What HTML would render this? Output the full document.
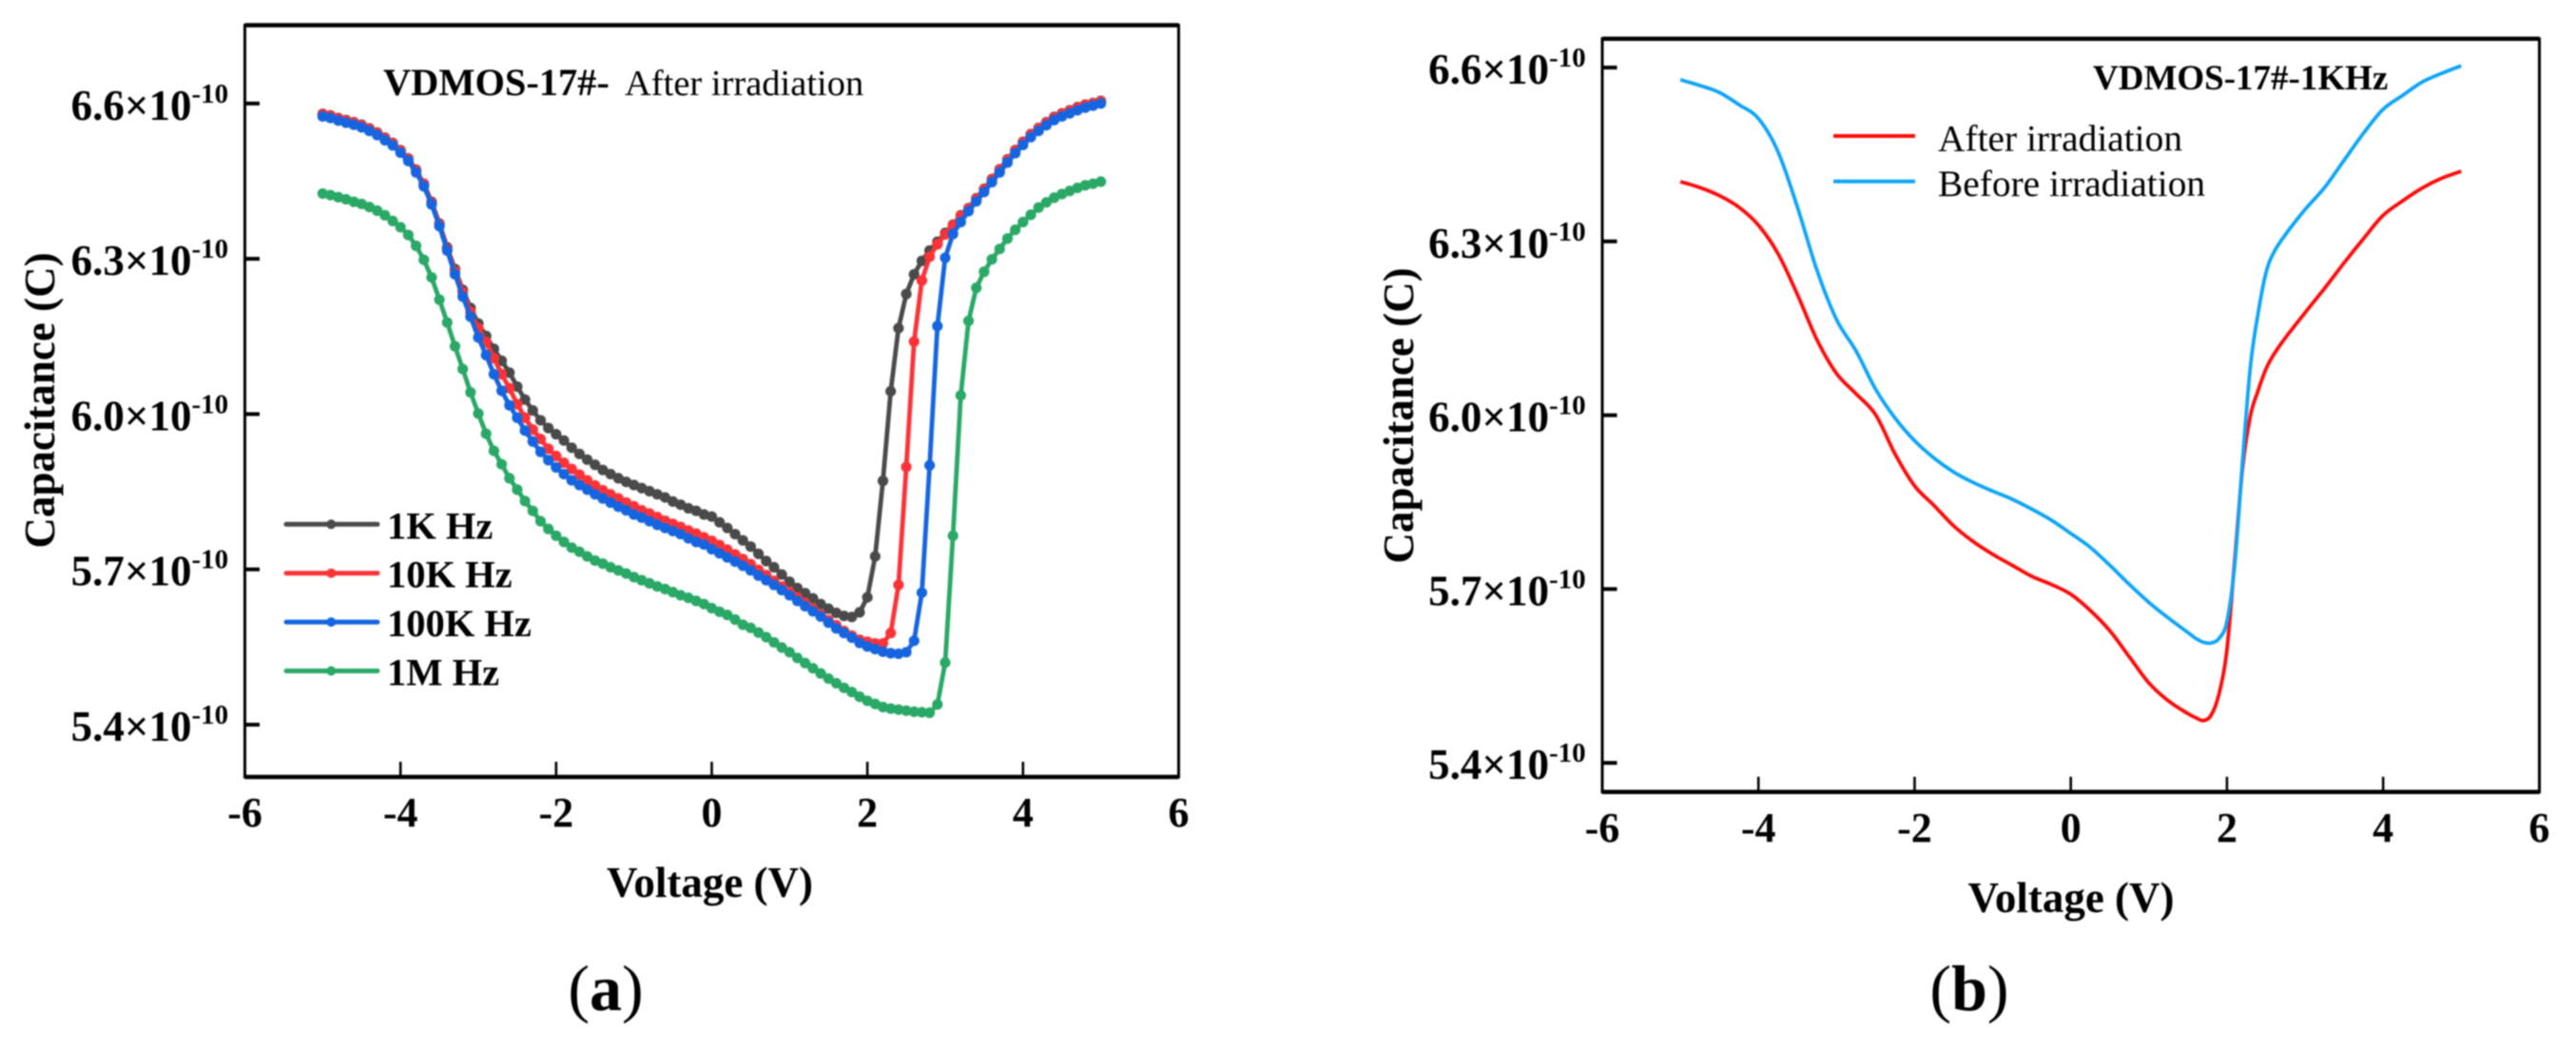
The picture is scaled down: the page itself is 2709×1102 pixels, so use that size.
<!DOCTYPE html>
<html lang="en">
<head>
<meta charset="utf-8">
<title>VDMOS-17# capacitance-voltage curves</title>
<style>
html,body{margin:0;padding:0;background:#fff;}
svg{display:block;filter:blur(0.7px);}
text{font-family:"Liberation Serif",serif;fill:#000;}
.b{font-weight:bold;}
</style>
</head>
<body>
<svg id="figure" xmlns="http://www.w3.org/2000/svg" width="2709" height="1102" viewBox="0 0 2709 1102">
  <rect x="0" y="0" width="2709" height="1102" fill="#fff"/>
  <g id="panelA"></g>
  <g id="panelB"></g>

  <text class="b" x="403" y="100" font-size="40.4">VDMOS-17#-</text>
  <text x="657" y="100" font-size="38.5">After irradiation</text>
  <text class="b" x="746.5" y="943" font-size="45" text-anchor="middle">Voltage (V)</text>
  <text class="b" font-size="45" text-anchor="middle" transform="translate(57 421) rotate(-90)">Capacitance (C)</text>
  <text x="637" y="1062" font-size="68" text-anchor="middle">(<tspan class="b">a</tspan>)</text>

  <text class="b" x="2201" y="94" font-size="37">VDMOS-17#-1KHz</text>
  <text class="b" x="2178" y="959" font-size="45" text-anchor="middle">Voltage (V)</text>
  <text class="b" font-size="45" text-anchor="middle" transform="translate(1486 437) rotate(-90)">Capacitance (C)</text>
  <text x="2071" y="1062" font-size="68" text-anchor="middle">(<tspan class="b">b</tspan>)</text>
</svg>
<script>
var xTickValues = [-6,-4,-2,0,2,4,6];
var xTickLabels = ["-6","-4","-2","0","2","4","6"];
var yTickValues = [5.4,5.7,6.0,6.3,6.6];
var yTickLabels = ["5.4","5.7","6.0","6.3","6.6"];
var yTickExponent = "-10";

var voltagesA = [
-5,-4.9,-4.8,-4.7,-4.6,-4.5,-4.4,-4.3,-4.2,-4.1,
-4,-3.9,-3.8,-3.7,-3.6,-3.5,-3.4,-3.3,-3.2,-3.1,
-3,-2.9,-2.8,-2.7,-2.6,-2.5,-2.4,-2.3,-2.2,-2.1,
-2,-1.9,-1.8,-1.7,-1.6,-1.5,-1.4,-1.3,-1.2,-1.1,
-1,-0.9,-0.8,-0.7,-0.6,-0.5,-0.4,-0.3,-0.2,-0.1,
0,0.1,0.2,0.3,0.4,0.5,0.6,0.7,0.8,0.9,
1,1.1,1.2,1.3,1.4,1.5,1.6,1.7,1.8,1.9,
2,2.1,2.2,2.3,2.4,2.5,2.6,2.7,2.8,2.9,
3,3.1,3.2,3.3,3.4,3.5,3.6,3.7,3.8,3.9,
4,4.1,4.2,4.3,4.4,4.5,4.6,4.7,4.8,4.9,
5];

var seriesA1kHz = [
6.580,6.577,6.572,6.568,6.564,6.559,6.552,6.544,6.534,6.524,
6.510,6.494,6.472,6.445,6.410,6.368,6.322,6.280,6.240,6.205,
6.175,6.151,6.126,6.103,6.080,6.053,6.028,6.007,5.988,5.973,
5.961,5.949,5.935,5.923,5.912,5.902,5.892,5.884,5.876,5.869,
5.863,5.857,5.851,5.845,5.839,5.831,5.825,5.818,5.813,5.806,
5.802,5.791,5.780,5.768,5.756,5.744,5.730,5.716,5.704,5.690,
5.676,5.664,5.654,5.644,5.633,5.624,5.616,5.610,5.608,5.617,
5.646,5.725,5.871,6.044,6.166,6.232,6.270,6.296,6.316,6.333,
6.350,6.366,6.384,6.398,6.417,6.435,6.454,6.473,6.492,6.510,
6.526,6.541,6.553,6.564,6.574,6.581,6.587,6.593,6.598,6.601,
6.605];

var seriesA10kHz = [
6.579,6.576,6.571,6.567,6.563,6.558,6.551,6.543,6.533,6.523,
6.509,6.493,6.471,6.444,6.408,6.366,6.319,6.276,6.235,6.197,
6.166,6.139,6.108,6.077,6.050,6.019,5.993,5.970,5.952,5.933,
5.919,5.906,5.894,5.883,5.872,5.862,5.853,5.845,5.837,5.829,
5.822,5.814,5.808,5.801,5.794,5.788,5.782,5.775,5.769,5.762,
5.755,5.747,5.738,5.729,5.720,5.710,5.699,5.689,5.678,5.667,
5.656,5.646,5.635,5.624,5.613,5.602,5.592,5.581,5.572,5.564,
5.560,5.557,5.557,5.577,5.670,5.898,6.140,6.258,6.304,6.328,
6.347,6.365,6.383,6.397,6.416,6.434,6.453,6.472,6.491,6.509,
6.525,6.540,6.552,6.563,6.573,6.580,6.586,6.592,6.597,6.600,
6.604];

var seriesA100kHz = [
6.575,6.572,6.567,6.563,6.559,6.554,6.547,6.539,6.529,6.519,
6.505,6.489,6.467,6.440,6.405,6.363,6.316,6.270,6.227,6.188,
6.148,6.114,6.077,6.045,6.017,5.993,5.968,5.947,5.927,5.911,
5.897,5.884,5.872,5.863,5.854,5.845,5.837,5.829,5.821,5.814,
5.806,5.800,5.793,5.786,5.780,5.774,5.768,5.760,5.753,5.748,
5.739,5.731,5.723,5.715,5.707,5.698,5.688,5.679,5.670,5.660,
5.650,5.639,5.629,5.619,5.609,5.597,5.586,5.577,5.568,5.558,
5.551,5.546,5.541,5.538,5.537,5.540,5.562,5.655,5.901,6.170,
6.302,6.348,6.371,6.392,6.411,6.429,6.448,6.467,6.486,6.504,
6.520,6.535,6.547,6.558,6.568,6.575,6.581,6.587,6.592,6.596,
6.600];

var seriesA1MHz = [
6.426,6.423,6.419,6.415,6.410,6.406,6.400,6.393,6.384,6.373,
6.361,6.346,6.325,6.298,6.264,6.221,6.177,6.131,6.087,6.042,
6.001,5.962,5.929,5.903,5.876,5.854,5.832,5.813,5.793,5.778,
5.765,5.753,5.742,5.734,5.725,5.717,5.711,5.704,5.698,5.692,
5.685,5.679,5.673,5.667,5.662,5.656,5.650,5.645,5.639,5.633,
5.625,5.618,5.612,5.603,5.593,5.587,5.578,5.569,5.559,5.549,
5.540,5.529,5.519,5.509,5.499,5.489,5.480,5.471,5.463,5.454,
5.446,5.440,5.434,5.431,5.429,5.427,5.425,5.424,5.423,5.439,
5.520,5.765,6.036,6.180,6.244,6.275,6.299,6.319,6.339,6.356,
6.371,6.385,6.399,6.409,6.418,6.425,6.431,6.437,6.442,6.445,
6.449];

var legendLabelsA = ["1K Hz","10K Hz","100K Hz","1M Hz"];

var voltagesBLeft = [-5,-4.75,-4.5,-4.25,-4,-3.75,-3.5,-3.25,-3,-2.75,-2.5,-2.25,-2,-1.75,-1.5,-1.25,-1,-0.75,-0.5,-0.25,
0,0.25,0.5,0.75,1,1.25,1.5,1.6,1.7,1.8,1.9,2,2.1,2.2,2.3,2.4,2.5,2.6,2.75,3,3.25,3.5,3.75,4,4.25,4.5,4.75,5];

var seriesBAfter = [6.403,6.393,6.379,6.359,6.328,6.279,6.208,6.130,6.072,6.037,6.001,5.933,5.878,5.844,5.809,5.782,5.760,5.741,5.722,5.708,
5.691,5.663,5.628,5.583,5.538,5.507,5.485,5.478,5.473,5.483,5.520,5.596,5.751,5.909,5.999,6.043,6.080,6.105,6.134,6.177,6.219,6.263,6.305,6.345,6.370,6.392,6.409,6.421];

var seriesBBefore = [6.579,6.569,6.557,6.536,6.512,6.455,6.359,6.250,6.165,6.111,6.045,5.995,5.956,5.926,5.902,5.884,5.869,5.855,5.838,5.819,
5.796,5.772,5.741,5.708,5.677,5.650,5.625,5.615,5.608,5.607,5.615,5.644,5.743,5.921,6.084,6.177,6.246,6.281,6.312,6.355,6.393,6.440,6.487,6.528,6.552,6.575,6.590,6.603];

var legendLabelsB = ["After irradiation","Before irradiation"];

var NS = "http://www.w3.org/2000/svg";
var panelA = document.getElementById("panelA");
var panelB = document.getElementById("panelB");

function make(parent, tag, attrs, txt) {
  var el = document.createElementNS(NS, tag);
  for (var k in attrs) el.setAttribute(k, attrs[k]);
  if (txt !== undefined) el.textContent = txt;
  parent.appendChild(el);
  return el;
}

function xA(v) { return 748.5 + 81.83 * v; }
function yA(c) { return 762 - (c - 5.4) * 544.3; }
function xB(v) { return 2177.7 + 82.12 * v; }
function yB(c) { return 802.2 - (c - 5.4) * 609.3; }

function drawAxes(parent, xf, yf, box, xLabelBase, prefix) {
  var frame = make(parent, "rect", {x: box.l, y: box.t, width: box.r - box.l, height: box.b - box.t, fill: "none", stroke: "#000", "stroke-width": 3});
  
  
  var top = make(parent, "line", {x1: box.l, x2: box.r, y1: box.t, y2: box.t, stroke: "#000", "stroke-width": 4.5});
  
  
  var bot = make(parent, "line", {x1: box.l, x2: box.r, y1: box.b, y2: box.b, stroke: "#000", "stroke-width": 4.5});
  
  

  xTickValues.forEach(function (v, i) {
    var x = xf(v);
    var t = make(parent, "line", {x1: x, x2: x, y1: box.b, y2: box.b - 16, stroke: "#000", "stroke-width": 2.6});
    
    
    var l = make(parent, "text", {x: x, y: xLabelBase, "font-size": 44, "font-weight": "bold", "text-anchor": "middle"}, xTickLabels[i]);
    
    
  });

  yTickValues.forEach(function (c, i) {
    var y = yf(c);
    var t = make(parent, "line", {x1: box.l, x2: box.l + 15.5, y1: y, y2: y, stroke: "#000", "stroke-width": 4});
    
    
    var l = make(parent, "text", {x: box.l - 56, y: y + 17, "font-size": 45, "font-weight": "bold", "text-anchor": "end"}, yTickLabels[i] + "\u00D710");
    
    
    var s = make(parent, "text", {x: box.l - 56, y: y - 1, "font-size": 29, "font-weight": "bold"}, yTickExponent);
    
    
  });
}

function markerSeries(parent, xs, ys, color, name) {
  var g = make(parent, "g", {});
  
  
  var pts = xs.map(function (v, i) { return xA(v).toFixed(2) + "," + yA(ys[i]).toFixed(2); }).join(" ");
  var line = make(g, "polyline", {points: pts, fill: "none", stroke: color, "stroke-width": 4.8, "stroke-linejoin": "round"});
  
  
  xs.forEach(function (v, i) {
    var p = make(g, "circle", {cx: xA(v).toFixed(2), cy: yA(ys[i]).toFixed(2), r: 5.6, fill: color});
    
    
  });
}

function smoothPath(xs, ys, xf, yf) {
  var P = xs.map(function (v, i) { return [xf(v), yf(ys[i])]; });
  var d = "M" + P[0][0].toFixed(2) + " " + P[0][1].toFixed(2);
  for (var i = 0; i < P.length - 1; i++) {
    var p0 = P[Math.max(i - 1, 0)], p1 = P[i], p2 = P[i + 1], p3 = P[Math.min(i + 2, P.length - 1)];
    var c1x = p1[0] + (p2[0] - p0[0]) / 6, c1y = p1[1] + (p2[1] - p0[1]) / 6;
    var c2x = p2[0] - (p3[0] - p1[0]) / 6, c2y = p2[1] - (p3[1] - p1[1]) / 6;
    d += "C" + c1x.toFixed(2) + " " + c1y.toFixed(2) + " " + c2x.toFixed(2) + " " + c2y.toFixed(2) + " " + p2[0].toFixed(2) + " " + p2[1].toFixed(2);
  }
  return d;
}

/* Panel A */
drawAxes(panelA, xA, yA, {l: 257.5, r: 1239.5, t: 26.5, b: 817}, 869, "panel-a");

var colorGray = "#4a4a4a", colorRed = "#fb3338", colorBlue = "#1565e0", colorGreen = "#2aa866";
markerSeries(panelA, voltagesA, seriesA1kHz, colorGray, "series-1k-hz");
markerSeries(panelA, voltagesA, seriesA10kHz, colorRed, "series-10k-hz");
markerSeries(panelA, voltagesA, seriesA100kHz, colorBlue, "series-100k-hz");
markerSeries(panelA, voltagesA, seriesA1MHz, colorGreen, "series-1m-hz");

[colorGray, colorRed, colorBlue, colorGreen].forEach(function (col, i) {
  var ly = 551.3 + i * 51.4;
  var g = make(panelA, "g", {});
  
  
  var ln = make(g, "line", {x1: 301, x2: 397, y1: ly, y2: ly, stroke: col, "stroke-width": 5, "stroke-linecap": "round"});
  
  
  var m = make(g, "circle", {cx: 348.3, cy: ly, r: 5, fill: col});
  
  
  var tx = make(g, "text", {x: 407, y: ly + 15, "font-size": 40.5, "font-weight": "bold"}, legendLabelsA[i]);
  
  
});

/* Panel B */
drawAxes(panelB, xB, yB, {l: 1685, r: 2670.5, t: 40.8, b: 832.8}, 885, "panel-b");

var colorAfter = "#ff0a0a", colorBefore = "#0fa5f8";
var pAfter = make(panelB, "path", {d: smoothPath(voltagesBLeft, seriesBAfter, xB, yB), fill: "none", stroke: colorAfter, "stroke-width": 3.8});


var pBefore = make(panelB, "path", {d: smoothPath(voltagesBLeft, seriesBBefore, xB, yB), fill: "none", stroke: colorBefore, "stroke-width": 3.8});



[colorAfter, colorBefore].forEach(function (col, i) {
  var ly = 143 + i * 47.7;
  var g = make(panelB, "g", {});
  
  
  var ln = make(g, "line", {x1: 1928, x2: 2014, y1: ly, y2: ly, stroke: col, "stroke-width": 4});
  
  
  var tx = make(g, "text", {x: 2038, y: ly + 15.5, "font-size": 39.4}, legendLabelsB[i]);
  
  
});
</script>
</body>
</html>
